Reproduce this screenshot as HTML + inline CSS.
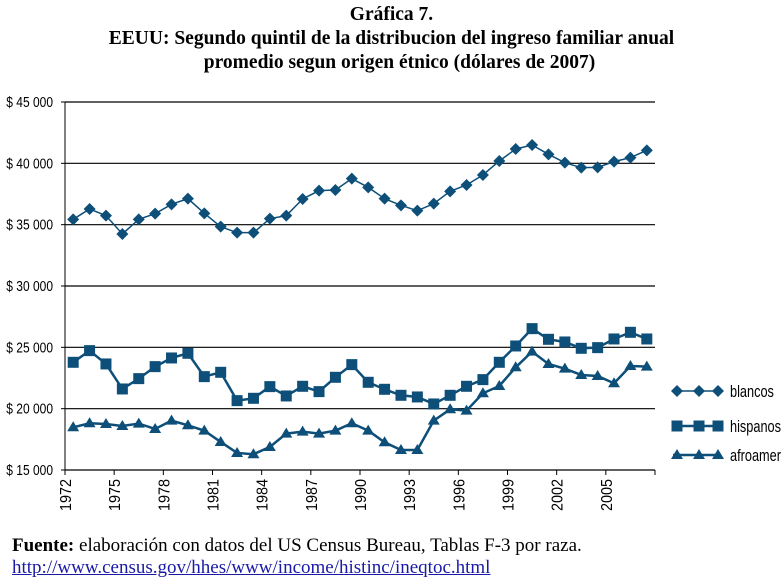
<!DOCTYPE html>
<html><head><meta charset="utf-8"><style>
body{margin:0;background:#fff;width:783px;height:583px;overflow:hidden;position:relative;font-family:"Liberation Serif",serif}
.t{position:absolute;left:0;width:783px;text-align:center;font-weight:bold;font-size:19.5px;color:#000;white-space:nowrap}
.f{position:absolute;left:12px;font-size:19px;white-space:nowrap}
</style></head><body>
<div class="t" style="top:4px">Gráfica 7.</div>
<div class="t" style="top:28px">EEUU: Segundo quintil de la distribucion del ingreso familiar anual</div>
<div class="t" style="top:52px;left:8px">promedio segun origen étnico (dólares de 2007)</div>
<svg id="chart" width="783" height="583" style="position:absolute;left:0;top:0"></svg>
<div class="f" style="top:535px"><b>Fuente:</b> elaboración con datos del US Census Bureau, Tablas F-3 por raza.</div>
<div class="f" style="top:557px;color:#1a1aa6;text-decoration:underline">http://www.census.gov/hhes/www/income/histinc/ineqtoc.html</div>
<script>
const years=[];for(let y=1972;y<=2007;y++)years.push(y);
const blancos=[35436,36278,35735,34240,35436,35898,36659,37120,35925,34838,34349,34349,35490,35735,37093,37773,37827,38751,38044,37120,36577,36142,36713,37718,38234,39050,40191,41169,41495,40734,40055,39647,39674,40137,40463,41060];
const hispanos=[23780,24731,23645,21606,22449,23427,24133,24514,22612,22965,20655,20845,21797,21036,21824,21389,22557,23590,22150,21579,21090,20955,20384,21090,21824,22367,23780,25111,26524,25654,25437,24921,24975,25682,26225,25682];
const afro=[18482,18808,18754,18591,18781,18346,19025,18645,18210,17286,16390,16281,16879,17966,18129,17966,18210,18808,18210,17259,16634,16634,19025,19949,19840,21253,21851,23373,24650,23645,23264,22748,22666,22068,23481,23427];
const yTicks=[15000,20000,25000,30000,35000,40000,45000];
const yLabels=["$ 15 000","$ 20 000","$ 25 000","$ 30 000","$ 35 000","$ 40 000","$ 45 000"];
const seriesNames=["blancos","hispanos","afroamer"];
const X0=65,X1=655,Y0=470,Y1=102,C="#0d4f79";
const band=(X1-X0)/years.length;
const xs=i=>X0+band*(i+0.5);
const ys=v=>Y0-(v-15000)/30000*(Y0-Y1);
const svg=document.getElementById('chart');const NS="http://www.w3.org/2000/svg";
function mk(t,a,p){const e=document.createElementNS(NS,t);for(const k in a)e.setAttribute(k,a[k]);(p||svg).appendChild(e);return e;}
yTicks.forEach((v,i)=>{
 const g=mk('line',{x1:X0,x2:X1,y1:ys(v),y2:ys(v),stroke:'#000','stroke-width':1.2});
 
 
 mk('line',{x1:X0-4,x2:X0,y1:ys(v),y2:ys(v),stroke:'#000'});
 const t=mk('text',{x:0,y:0,'text-anchor':'end','font-size':15,'font-family':'"Liberation Sans Narrow","Liberation Sans",sans-serif',transform:`translate(53,${ys(v)+5}) scale(0.8,1)`});
 t.textContent=yLabels[i];
 
 
});
mk('line',{x1:X0,x2:X0,y1:Y1,y2:Y0,stroke:'#000'});
mk('line',{x1:X0,x2:X1,y1:Y0,y2:Y0,stroke:'#000'});
years.forEach((yr,i)=>{
 if(i%3===0){
  const x=X0+band*i;
  mk('line',{x1:x,x2:x,y1:Y0,y2:Y0+5,stroke:'#000'});
  const t=mk('text',{x:0,y:0,'text-anchor':'end','font-size':16,'font-family':'"Liberation Sans Narrow","Liberation Sans",sans-serif',transform:`translate(${x+6},${Y0+9}) rotate(-90) scale(0.9,1)`});
  t.textContent=yr;
  
  
 }
});
mk('line',{x1:X1,x2:X1,y1:Y0,y2:Y0+5,stroke:'#000'});
function marker(type,x,y,p){
 if(type===0)return mk('polygon',{points:`${x},${y-6} ${x+6},${y} ${x},${y+6} ${x-6},${y}`,fill:C},p);
 if(type===1)return mk('rect',{x:x-5.5,y:y-5.5,width:11,height:11,fill:C},p);
 return mk('polygon',{points:`${x},${y-6} ${x+6},${y+4} ${x-6},${y+4}`,fill:C},p);
}
[blancos,hispanos,afro].forEach((data,s)=>{
 const g=mk('g',{});
 
 
 mk('polyline',{points:data.map((v,i)=>xs(i)+','+ys(v)).join(' '),fill:'none',stroke:C,'stroke-width':s===0?1.5:2.5},g);
 data.forEach((v,i)=>{const m=marker(s,xs(i),ys(v),g);
  
  });
 const ly=[391,426,455][s];
 const lg=mk('g',{});
 
 
 mk('line',{x1:673,x2:720,y1:ly,y2:ly,stroke:C,'stroke-width':s===0?1.5:2.5},lg);
 [677,699,718].forEach(x=>marker(s,x,ly,lg));
 const t=mk('text',{x:0,y:0,'font-size':17,'font-family':'"Liberation Sans Narrow","Liberation Sans",sans-serif',transform:`translate(730,${ly+6}) scale(0.75,1)`},lg);
 t.textContent=seriesNames[s];
});
</script>
</body></html>
